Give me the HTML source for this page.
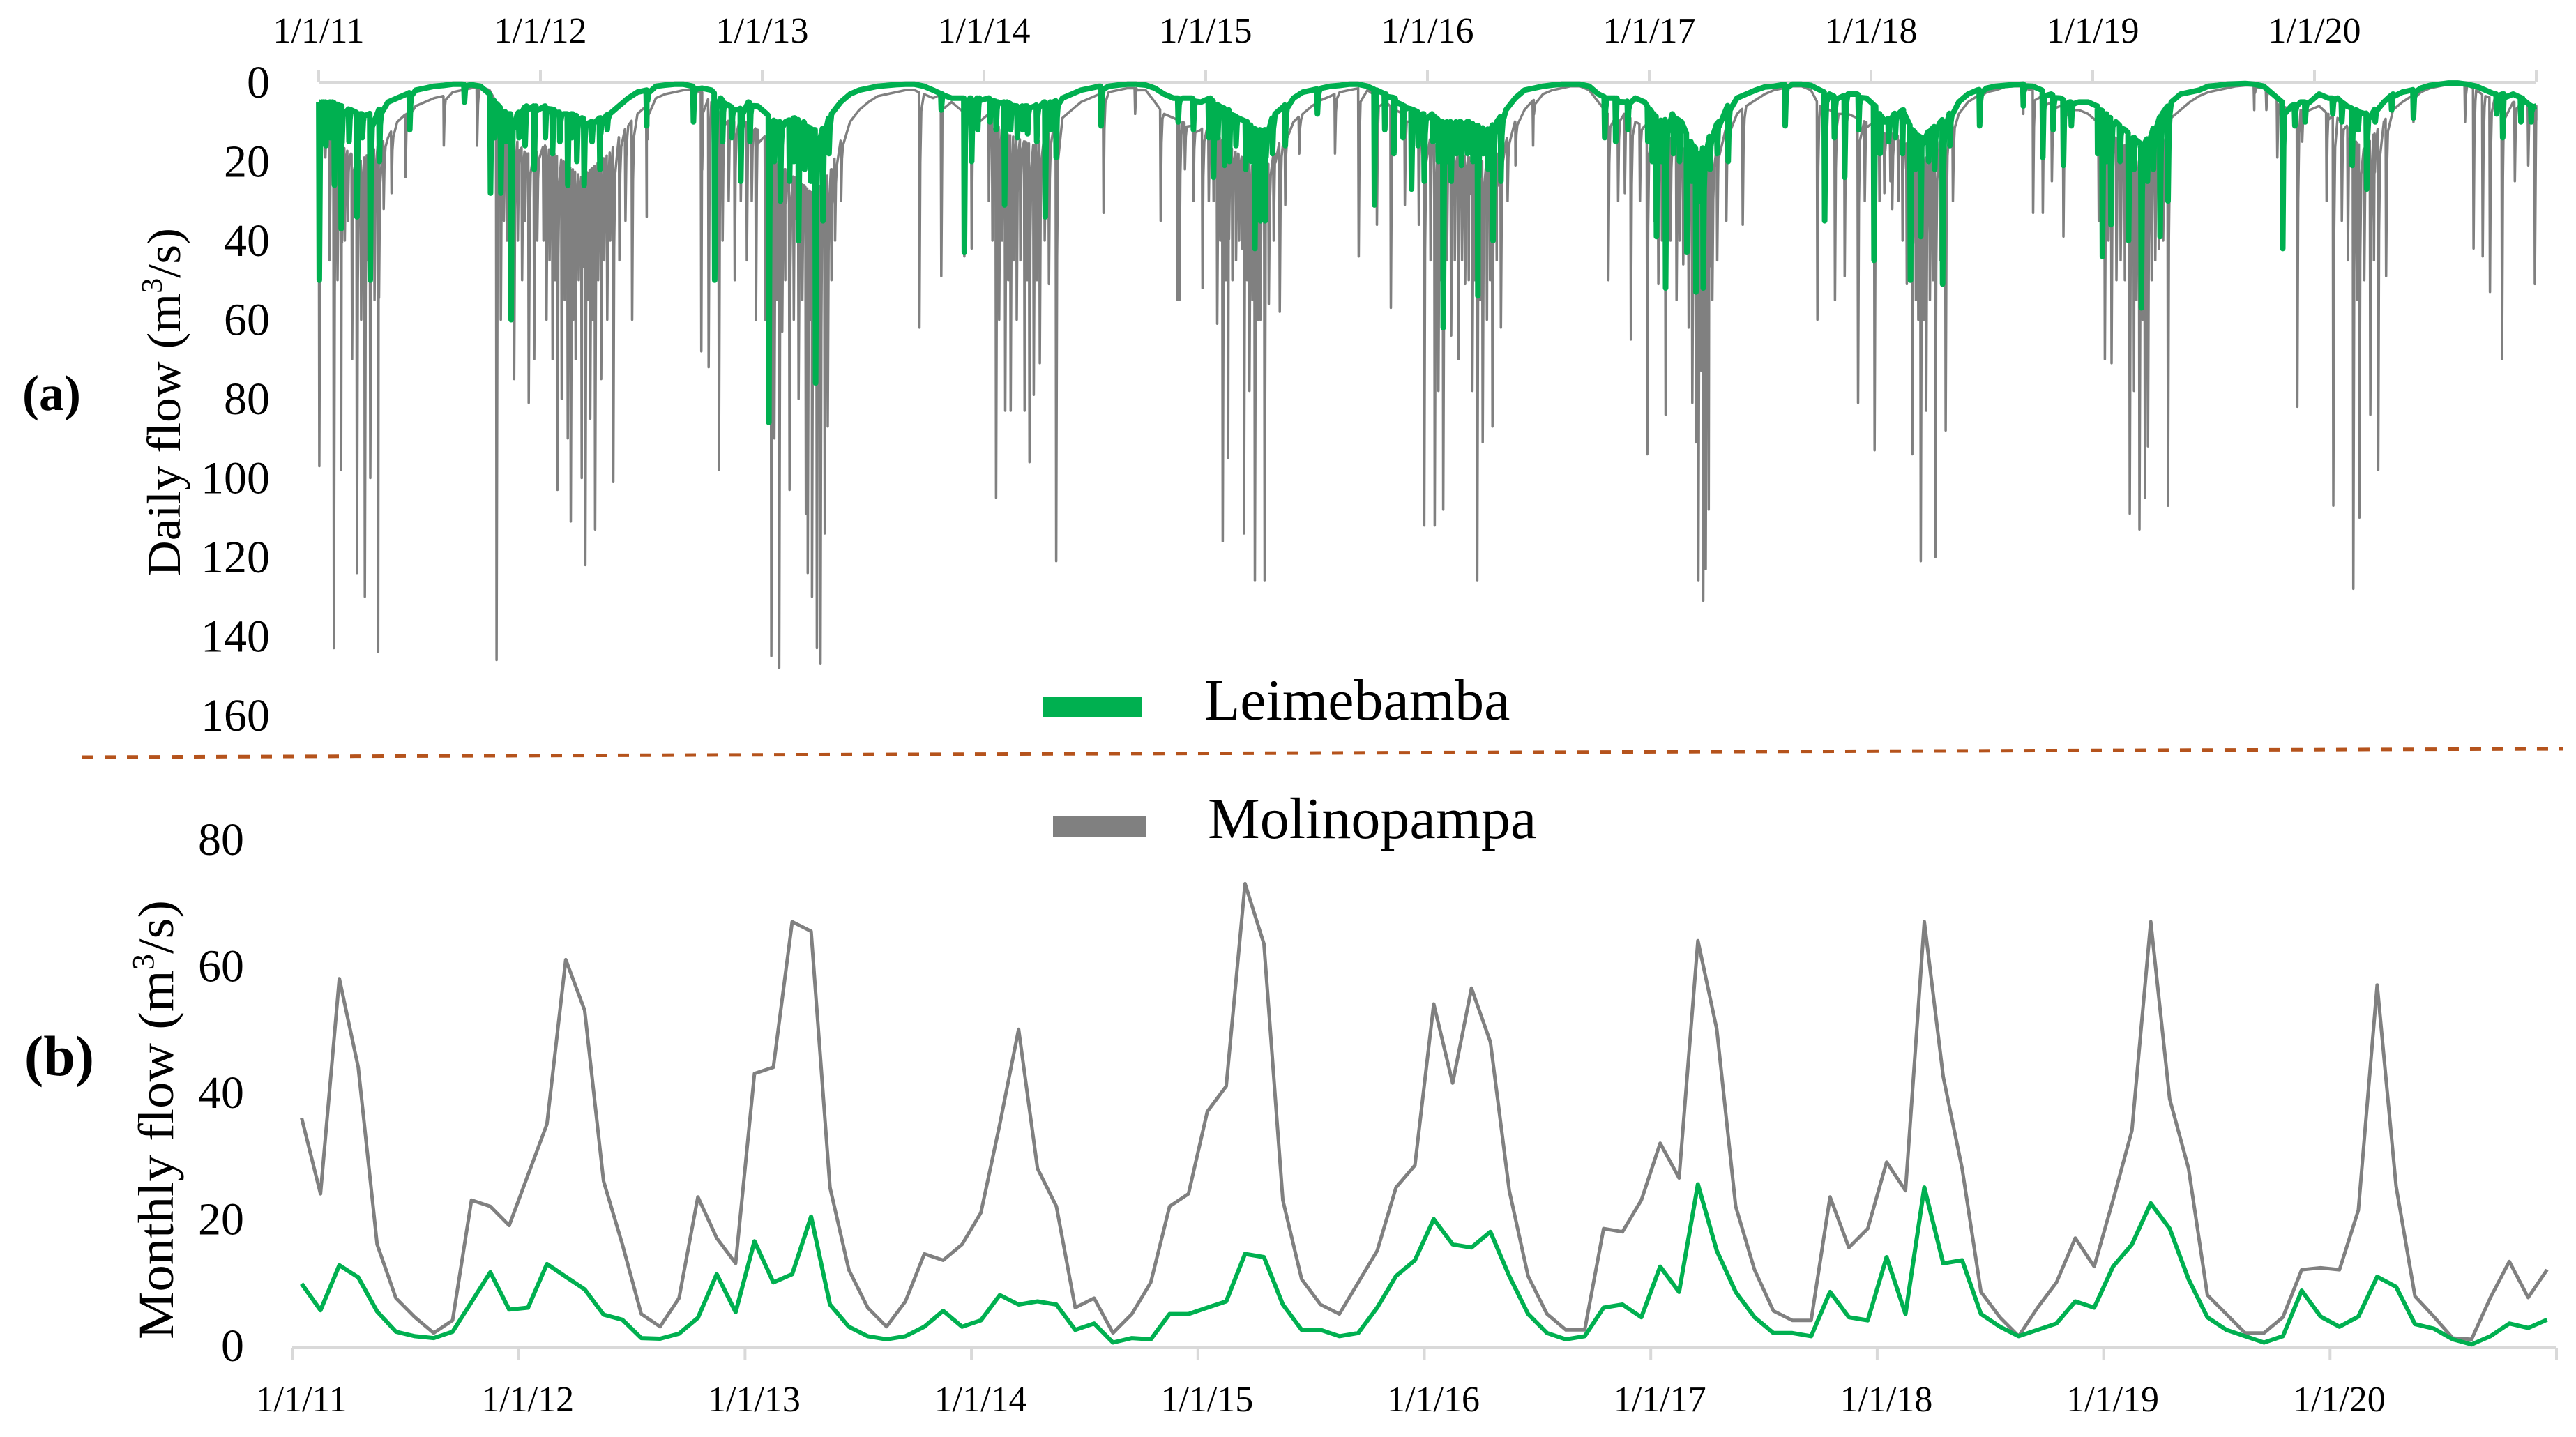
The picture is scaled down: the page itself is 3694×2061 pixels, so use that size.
<!DOCTYPE html>
<html><head><meta charset="utf-8"><style>
html,body{margin:0;padding:0;background:#fff;}
svg{display:block;}
text{font-family:"Liberation Serif",serif;fill:#000;}
</style></head><body>
<svg id="fig" width="3694" height="2061" viewBox="0 0 3694 2061" xmlns="http://www.w3.org/2000/svg">
<rect x="0" y="0" width="3694" height="2061" fill="#fff"/>
<g id="daily"></g>
<g id="monthly"></g>
<text x="74" y="588" font-size="72" font-weight="bold" text-anchor="middle">(a)</text>
<text x="85" y="1542" font-size="82" font-weight="bold" text-anchor="middle">(b)</text>
<text transform="translate(258,577) rotate(-90)" font-size="68" text-anchor="middle" textLength="500" lengthAdjust="spacingAndGlyphs">Daily flow (m<tspan font-size="42" dy="-26">3</tspan><tspan dy="26">/s)</tspan></text>
<text transform="translate(248,1606) rotate(-90)" font-size="72" text-anchor="middle" textLength="630" lengthAdjust="spacingAndGlyphs">Monthly flow (m<tspan font-size="44" dy="-28">3</tspan><tspan dy="28">/s)</tspan></text>
<line x1="118" y1="1086" x2="3675" y2="1074" stroke="#b5531c" stroke-width="5" stroke-dasharray="16 16"/>
<g>
<rect x="1496" y="999" width="141" height="30" fill="#00b050"/>
<text x="1727" y="1032" font-size="84">Leimebamba</text>
<rect x="1510" y="1170" width="134" height="30" fill="#808080"/>
<text x="1732" y="1202" font-size="84">Molinopampa</text>
</g>
</svg>
<script>
const yearLabels = ["1/1/11","1/1/12","1/1/13","1/1/14","1/1/15","1/1/16","1/1/17","1/1/18","1/1/19","1/1/20"];
const dailyTicks = [0,20,40,60,80,100,120,140,160];
const monthlyTicks = [0,20,40,60,80];
// half-monthly baseline (recession floor) of daily flow, 24 per year 2011-2020
const grayBase = [
8,14,16,18,20,18,16,14,10,8,6,5,4,3.5,2.5,2,1.5,1,2,6,12,15,18,18,
16,18,20,22,24,22,20,18,14,11,8,6,4,3,2.5,2,2,2.5,5,8,10,10,10,12,
14,20,22,24,26,28,26,22,15,10,7,5,3.5,3,2.5,2,2,3,4,3,5,7,8,10,
8,11,13,14,15,16,14,12,9,7,5,4,3,2.5,2,1.5,1.5,2,5,8,9,10,11,12,
10,14,16,18,20,22,22,18,13,10,8,6,4.5,3.5,2.5,2,1.5,2,3.5,5,7,8,10,12,
15,17,18,18,19,20,20,18,15,10,7,4.5,3,2,1.5,1,1,2,5,8,8,8,10,11,
13,15,14,16,20,24,20,16,11,8,6,4.5,3,2,1.5,1,1,2,6,7,8,8,9,10,
10,13,13,14,18,20,18,15,11,8,5,3.5,2.5,2,1.2,1,1,2,3.5,5,6,7,7,8,
10,13,14,16,20,20,18,14,9,7,5,3.5,2.5,2,1.5,1,0.8,0.8,1.5,3,6,7,7,7,
6,8,9,11,15,17,13,10,7,5,3.5,2.5,1.5,1,0.5,0.5,0.5,2,3.5,4,4.5,5,5,6];
const greenBase = [
5,5,6,7,8,8,7,5,4,3,2,1.5,1,0.8,0.5,0.5,0.6,1,3,6,8,8,6,6,
6,7,8,8,9,10,9,8,6,4,2.5,2,1,0.7,0.5,0.5,1,1.5,2,4,6,7,5,6,
8,10,10,9,10,12,12,8,5,3,2,1.5,1,0.8,0.6,0.5,0.5,1,2,3,4,4,4,4,
4,5,5,6,6,6,5,5,4,3,2,1.5,1,1,0.7,0.5,0.5,0.7,1.5,3,4,4,4,5,
4,6,7,9,10,12,12,8,6,4,2.5,2,1.5,1,0.8,0.5,0.5,1,2,3,4,6,7,8,
8,10,10,10,10,11,12,10,7,4,2,1.5,1,0.7,0.5,0.5,0.5,1,3,4,4,5,4,5,
8,10,8,10,15,18,14,10,6,4,3,2,1.2,1,0.6,0.5,0.5,0.8,2,3,4,3,3,4,
6,10,8,7,12,14,12,10,8,5,3,2,1.5,1,0.8,0.6,0.5,1,2,3,4,5,5,5,
6,8,10,12,14,16,12,8,5,3,2.5,2,1,0.8,0.5,0.4,0.3,0.5,1,3,5,6,5,5,
3,4,4,6,7,8,7,5,3,2.5,2,1.5,0.8,0.5,0.2,0.2,0.5,1,2,3,3,3,4,6];
// storm peaks: [yearIndex, dayOfYear, flow]
const graySpikes = [
[0,1,97],[0,11,19],[0,18,45],[0,25,143],[0,31,50],[0,37,98],[0,43,40],[0,48,35],[0,55,70],[0,63,124],[0,70,60],[0,76,130],[0,80,45],[0,85,100],[0,92,55],[0,98,144],[0,107,32],[0,120,28],[0,143,24],[0,206,16],[0,261,16],[0,293,146],[0,300,60],[0,305,35],[0,310,40],[0,316,55],[0,322,75],[0,328,40],[0,335,50],[0,340,35],[0,346,81],[0,355,70],[0,360,40],
[1,5,40],[1,10,60],[1,15,45],[1,20,70],[1,24,50],[1,28,103],[1,35,80],[1,40,55],[1,45,90],[1,50,111],[1,54,60],[1,58,70],[1,63,50],[1,68,100],[1,74,122],[1,78,55],[1,82,85],[1,86,60],[1,90,113],[1,95,50],[1,100,75],[1,105,45],[1,110,60],[1,115,40],[1,120,101],[1,130,45],[1,140,35],[1,151,60],[1,175,34],[1,265,68],[1,277,72],[1,294,98],[1,300,40],[1,310,30],[1,320,50],[1,330,30],[1,340,45],[1,348,30],[1,355,60],
[2,5,60],[2,11,62],[2,15,145],[2,20,90],[2,24,55],[2,28,148],[2,33,63],[2,38,50],[2,45,103],[2,52,60],[2,60,80],[2,66,55],[2,72,109],[2,75,124],[2,79,60],[2,82,130],[2,86,70],[2,90,143],[2,96,147],[2,103,114],[2,108,87],[2,114,50],[2,120,40],[2,130,30],[2,259,62],[2,295,49],[2,333,44],[2,345,42],
[3,8,30],[3,14,40],[3,20,105],[3,25,60],[3,30,40],[3,35,83],[3,40,50],[3,44,83],[3,49,45],[3,54,60],[3,60,45],[3,67,83],[3,71,50],[3,75,96],[3,82,79],[3,87,50],[3,92,71],[3,100,40],[3,107,51],[3,119,121],[3,197,33],[3,249,8],[3,291,35],[3,319,55],[3,322,55],[3,331,22],[3,345,30],[3,360,52],
[4,5,30],[4,13,30],[4,19,61],[4,24,40],[4,28,116],[4,33,50],[4,37,95],[4,44,50],[4,50,45],[4,55,40],[4,60,42],[4,63,114],[4,68,50],[4,72,78],[4,77,55],[4,81,126],[4,86,60],[4,90,60],[4,97,126],[4,104,56],[4,112,40],[4,122,58],[4,131,31],[4,154,18],[4,213,18],[4,252,44],[4,282,36],[4,305,57],[4,328,31],[4,351,36],[4,360,112],
[5,5,45],[5,12,112],[5,18,78],[5,22,50],[5,26,108],[5,32,45],[5,39,64],[5,45,45],[5,51,70],[5,57,45],[5,62,51],[5,68,50],[5,74,78],[5,78,50],[5,82,126],[5,87,55],[5,91,91],[5,98,60],[5,103,50],[5,107,87],[5,114,45],[5,121,62],[5,132,30],[5,145,21],[5,174,16],[5,298,50],[5,314,30],[5,325,28],[5,335,65],[5,350,30],[5,362,94],
[6,8,35],[6,15,51],[6,21,40],[6,27,84],[6,35,40],[6,45,55],[6,50,40],[6,56,46],[6,65,62],[6,71,81],[6,77,91],[6,81,126],[6,86,73],[6,89,131],[6,93,123],[6,98,108],[6,104,55],[6,112,45],[6,127,35],[6,154,36],[6,277,60],[6,306,55],[6,322,49],[6,344,81],[6,355,30],
[7,6,93],[7,14,30],[7,22,28],[7,32,25],[7,35,32],[7,45,30],[7,52,40],[7,59,51],[7,64,45],[7,68,94],[7,74,55],[7,78,60],[7,82,121],[7,87,60],[7,91,83],[7,97,55],[7,102,50],[7,106,120],[7,114,45],[7,123,88],[7,135,30],[7,177,8],[7,251,8],[7,267,33],[7,283,33],[7,298,25],[7,317,39],
[8,10,35],[8,20,70],[8,26,40],[8,31,71],[8,39,50],[8,46,45],[8,53,50],[8,61,109],[8,68,78],[8,72,55],[8,77,113],[8,82,60],[8,86,105],[8,91,92],[8,97,50],[8,103,45],[8,109,42],[8,116,40],[8,124,107],[8,266,7],[8,286,7],[8,304,19],[8,337,82],[8,345,15],
[9,20,30],[9,31,107],[9,45,35],[9,55,45],[9,64,128],[9,70,55],[9,74,110],[9,82,50],[9,92,84],[9,98,45],[9,105,98],[9,118,49],[9,163,10],[9,248,10],[9,262,42],[9,277,44],[9,289,53],[9,309,70],[9,330,25],[9,352,21],[9,363,51]];
const greenSpikes = [
[0,1,50],[0,6,12],[0,12,16],[0,19,14],[0,26,26],[0,32,12],[0,37,37],[0,50,15],[0,63,34],[0,72,14],[0,85,50],[0,100,20],[0,150,12],[0,240,5],[0,283,28],[0,290,14],[0,300,28],[0,308,15],[0,317,60],[0,330,14],[0,340,16],[0,355,22],
[1,8,14],[1,20,18],[1,32,15],[1,45,26],[1,52,14],[1,60,20],[1,72,26],[1,85,15],[1,98,22],[1,110,12],[1,175,11],[1,252,10],[1,287,50],[1,300,15],[1,315,14],[1,330,25],[1,345,15],
[2,11,86],[2,20,20],[2,30,30],[2,45,25],[2,52,20],[2,60,40],[2,70,22],[2,80,25],[2,88,76],[2,100,35],[2,110,18],[2,295,7],[2,333,43],[2,345,20],[2,355,12],
[3,10,10],[3,20,12],[3,34,31],[3,44,12],[3,55,14],[3,64,12],[3,72,13],[3,87,15],[3,101,34],[3,110,12],[3,119,19],[3,193,11],[3,320,10],[3,345,12],
[4,5,14],[4,13,24],[4,20,14],[4,31,21],[4,39,20],[4,50,16],[4,66,22],[4,75,20],[4,81,42],[4,90,35],[4,98,35],[4,110,18],[4,131,16],[4,184,8],[4,278,31],[4,295,12],[4,310,18],[4,325,14],[4,339,27],[4,350,16],[4,360,25],
[5,9,15],[5,18,20],[5,26,62],[5,33,20],[5,39,25],[5,48,18],[5,56,21],[5,66,18],[5,75,20],[5,83,54],[5,92,18],[5,100,22],[5,108,40],[5,121,25],[5,292,14],[5,310,15],[5,330,12],[5,363,15],
[6,5,20],[6,12,39],[6,20,20],[6,27,52],[6,40,18],[6,50,20],[6,62,43],[6,70,25],[6,77,53],[6,84,30],[6,89,52],[6,100,22],[6,112,18],[6,130,20],[6,224,11],[6,289,35],[6,305,14],[6,322,24],[6,345,12],
[7,5,45],[7,15,18],[7,29,15],[7,40,14],[7,52,18],[7,65,50],[7,73,22],[7,82,39],[7,95,20],[7,105,22],[7,118,51],[7,130,16],[7,179,11],[7,251,6],[7,283,19],[7,300,12],[7,317,21],[7,330,11],
[8,8,18],[8,16,44],[8,23,20],[8,30,36],[8,45,20],[8,59,40],[8,68,22],[8,80,57],[8,90,25],[8,100,22],[8,111,39],[8,124,30],[8,313,42],[8,333,11],[8,350,10],
[9,30,8],[9,45,10],[9,62,21],[9,72,12],[9,86,27],[9,100,10],[9,127,7],[9,163,9],[9,300,8],[9,310,14],[9,340,10],[9,357,10]];
const monthlyGray = [
36,24,58,44,16,7.5,4.5,2,4,23,22,19,
27,35,61,53,26,16,5,3,7.5,23.5,17,13,
43,44,67,65.5,25,12,6,3,7,14.5,13.5,16,
21,35,50,28,22,6,7.5,2,5,10,22,24,
37,41,73,63.5,23,10.5,6.5,5,10,15,25,28.5,
54,41.5,56.5,48,24.5,11,5,2.5,2.5,18.5,18,23,
32,26.5,64,50,22,12,5.5,4,4,23.5,15.5,18.5,
29,24.5,67,42.5,28,8.5,4.5,1.5,6,10,17,12.5,
23,34,67,39,28,8,5,2,2,4.5,12,12.3,
12,21.4,57,25.2,7.8,4.6,1.2,1.0,7.6,13.3,7.6,12.0];
const monthlyGreen = [
9.8,5.6,12.7,10.8,5.4,2.2,1.5,1.2,2.2,6.9,11.6,5.7,
6.0,12.9,10.9,8.9,4.9,4.1,1.2,1.1,1.9,4.4,11.3,5.3,
16.5,10.0,11.3,20.4,6.5,3,1.5,1,1.5,3,5.5,3,
4,8,6.5,7,6.5,2.5,3.5,0.5,1.2,1,5,5,
6,7,14.5,14,6.5,2.5,2.5,1.5,2,6,11,13.5,
20,16,15.5,18,11,5,2,1,1.5,6,6.5,4.5,
12.5,8.5,25.5,15,8.5,4.5,2,2,1.5,8.5,4.5,4,
14,5,25,13,13.5,5,3,1.5,2.5,3.5,7,6,
12.5,16,22.5,18.5,10.5,4.5,2.5,1.5,0.5,1.5,8.7,4.6,
3.0,4.6,10.9,9.3,3.4,2.7,1.0,0.2,1.5,3.5,2.8,4.1];

const NS = "http://www.w3.org/2000/svg";
function mk(tag, attrs, parent){const e=document.createElementNS(NS,tag);for(const k in attrs)e.setAttribute(k,attrs[k]);parent.appendChild(e);return e;}

// ---- daily chart (a) ----
const gD = document.getElementById('daily');
const YEAR = 365.25;
const dX0 = 457, dYearW = 318;
const dx = d => dX0 + d * dYearW / YEAR;
const dy = v => 118 + v * 113.5 / 20;
const nYears = yearLabels.length;
const axisD = mk('line',{x1:dX0,y1:118,x2:dx(nYears*YEAR),y2:118,stroke:'#d9d9d9','stroke-width':4},gD);


for(let i=0;i<=nYears;i++){
  const t = mk('line',{x1:dx(i*YEAR),y1:101,x2:dx(i*YEAR),y2:118,stroke:'#d9d9d9','stroke-width':4},gD);
  
  
}
yearLabels.forEach((lab,i)=>{
  const t = mk('text',{x:dx(i*YEAR),y:61,'font-size':52,'text-anchor':'middle'},gD);
  t.textContent = lab;
  
  
});
dailyTicks.forEach(v=>{
  const t = mk('text',{x:387,y:dy(v)+22,'font-size':66,'text-anchor':'end'},gD);
  t.textContent = v;
  
  
});
function baseAt(base, d){
  const step = YEAR/24;
  let f = (d - step/2)/step;
  if(f<=0) return base[0];
  if(f>=base.length-1) return base[base.length-1];
  const i=Math.floor(f), r=f-i;
  return base[i]*(1-r)+base[i+1]*r;
}
function dailyPath(base, spikes){
  const pts=[];
  const step = YEAR/24;
  pts.push([0, base[0]]);
  base.forEach((v,k)=>pts.push([step/2+k*step, v]));
  const total = nYears*YEAR;
  spikes.forEach(s=>{
    const d = Math.min(s[0]*YEAR + s[1], total-1);
    const b = baseAt(base,d);
    pts.push([d-0.9, b]);
    pts.push([d, s[2]]);
    pts.push([d+1.4, b+(s[2]-b)*0.3]);
    pts.push([d+3, b+(s[2]-b)*0.08]);
  });
  pts.push([total, base[base.length-1]]);
  pts.sort((a,b)=>a[0]-b[0]);
  return pts.map((p,i)=>(i?'L':'M')+dx(Math.max(0,Math.min(total,p[0]))).toFixed(1)+','+dy(p[1]).toFixed(1)).join('');
}
const pg = mk('path',{d:dailyPath(grayBase,graySpikes),fill:'none',stroke:'#808080','stroke-width':3.5,'stroke-linejoin':'round'},gD);


const pgr = mk('path',{d:dailyPath(greenBase,greenSpikes),fill:'none',stroke:'#00b050','stroke-width':8,'stroke-linejoin':'round'},gD);



// ---- monthly chart (b) ----
const gM = document.getElementById('monthly');
const mX0 = 419, mYearW = 324.7;
const mx = i => mX0 + (i+0.5) * mYearW/12;
const my = v => 1930 - v * 181.5 / 20;
const axisM = mk('line',{x1:mX0,y1:1933,x2:mX0+nYears*mYearW,y2:1933,stroke:'#d9d9d9','stroke-width':4},gM);


for(let i=0;i<=nYears;i++){
  const t = mk('line',{x1:mX0+i*mYearW,y1:1933,x2:mX0+i*mYearW,y2:1951,stroke:'#d9d9d9','stroke-width':4},gM);
  
  
}
yearLabels.forEach((lab,i)=>{
  const t = mk('text',{x:mX0+i*mYearW+13,y:2024,'font-size':52,'text-anchor':'middle'},gM);
  t.textContent = lab;
  
  
});
monthlyTicks.forEach(v=>{
  const t = mk('text',{x:350,y:my(v)+22,'font-size':66,'text-anchor':'end'},gM);
  t.textContent = v;
  
  
});
const lg = mk('polyline',{points:monthlyGray.map((v,i)=>mx(i).toFixed(1)+','+my(v).toFixed(1)).join(' '),fill:'none',stroke:'#808080','stroke-width':5,'stroke-linejoin':'round'},gM);


const lgr = mk('polyline',{points:monthlyGreen.map((v,i)=>mx(i).toFixed(1)+','+my(v).toFixed(1)).join(' '),fill:'none',stroke:'#00b050','stroke-width':6,'stroke-linejoin':'round'},gM);


</script>
</body></html>
